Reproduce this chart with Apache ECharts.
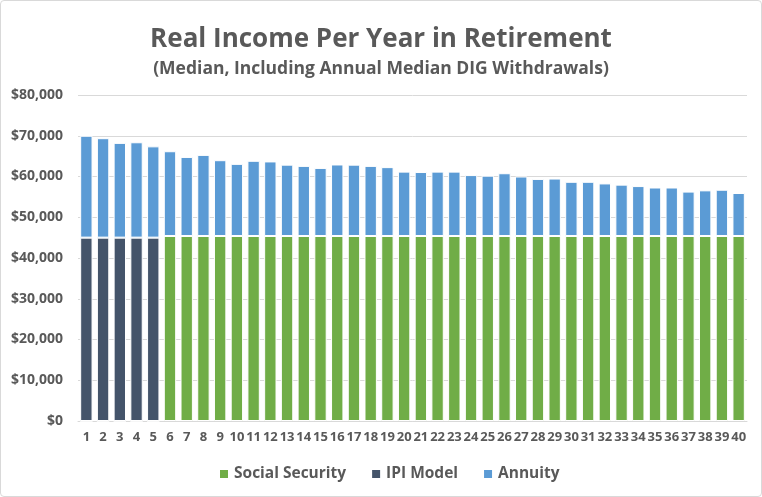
<!DOCTYPE html>
<html><head><meta charset="utf-8">
<script src="https://cdn.jsdelivr.net/npm/echarts@6/dist/echarts.min.js"></script>
<style>html,body{margin:0;padding:0;background:#fff}#c{width:762px;height:497px;box-sizing:border-box;border:1px solid #d9d9d9;border-radius:4px}</style>
</head><body><div id="c"></div>
<script>
const years = [];
for (let i = 1; i <= 40; i++) years.push(String(i));
const totals = [70000,69400,68250,68400,67400,66200,64800,65300,64000,63100,63850,63700,62900,62600,62100,62950,62900,62600,62300,61200,61100,61200,61200,60350,60200,60800,60000,59400,59500,58700,58700,58300,58000,57650,57300,57300,56300,56600,56750,55950];
const socialSecurity = [0,0,0,0,0,45400,45400,45400,45400,45400,45400,45400,45400,45400,45400,45400,45400,45400,45400,45400,45400,45400,45400,45400,45400,45400,45400,45400,45400,45400,45400,45400,45400,45400,45400,45400,45400,45400,45400,45400];
const ipiModel = [45000,45000,45000,45000,45000,0,0,0,0,0,0,0,0,0,0,0,0,0,0,0,0,0,0,0,0,0,0,0,0,0,0,0,0,0,0,0,0,0,0,0];
const annuity = totals.map((t, i) => t - socialSecurity[i] - ipiModel[i]);
const yTicks = ['$0','$10,000','$20,000','$30,000','$40,000','$50,000','$60,000','$70,000','$80,000'];

const FONT = '"Liberation Sans Narrow","Open Sans",sans-serif';
const TXT = '#595959';
const chart = echarts.init(document.getElementById('c'));
const barStyle = c => ({ color: c, borderColor: '#ffffff', borderWidth: 1 });
chart.setOption({
  animation: false,
  title: {
    text: 'Real Income Per Year in Retirement',
    subtext: '(Median, Including Annual Median DIG Withdrawals)',
    left: 'center', top: 21, itemGap: 7,
    textStyle: { fontFamily: '"Open Sans",sans-serif', fontWeight: 'bold', fontSize: 26, color: TXT },
    subtextStyle: { fontFamily: '"Open Sans",sans-serif', fontWeight: 'bold', fontSize: 17.5, color: TXT }
  },
  legend: {
    bottom: 9, left: 212, itemWidth: 10, itemHeight: 10, itemGap: 24,
    icon: 'rect',
    data: ['Social Security','IPI Model','Annuity'],
    textStyle: { fontFamily: FONT, fontWeight: 'bold', fontSize: 15.5, color: TXT }
  },
  grid: { left: 77, right: 14, top: 94, bottom: 75 },
  xAxis: {
    type: 'category', data: years,
    axisLine: { lineStyle: { color: '#d9d9d9' } }, axisTick: { show: false },
    axisLabel: { interval: 0, fontFamily: FONT, fontWeight: 'bold', fontSize: 13, color: TXT, margin: 10 }
  },
  yAxis: {
    type: 'value', min: 0, max: 80000, interval: 10000,
    axisLine: { show: false }, axisTick: { show: false },
    splitLine: { lineStyle: { color: '#d9d9d9', width: 1 } },
    axisLabel: { formatter: (v) => yTicks[Math.round(v / 10000)], fontFamily: '"Open Sans",sans-serif', fontWeight: 'bold', fontSize: 14, color: TXT, margin: 15 }
  },
  series: [
    { name: 'Social Security', type: 'bar', stack: 't', data: socialSecurity, barWidth: '74%', itemStyle: barStyle('#70AD47') },
    { name: 'IPI Model', type: 'bar', stack: 't', data: ipiModel, itemStyle: barStyle('#44546A') },
    { name: 'Annuity', type: 'bar', stack: 't', data: annuity, itemStyle: barStyle('#5B9BD5') }
  ]
});
</script></body></html>
